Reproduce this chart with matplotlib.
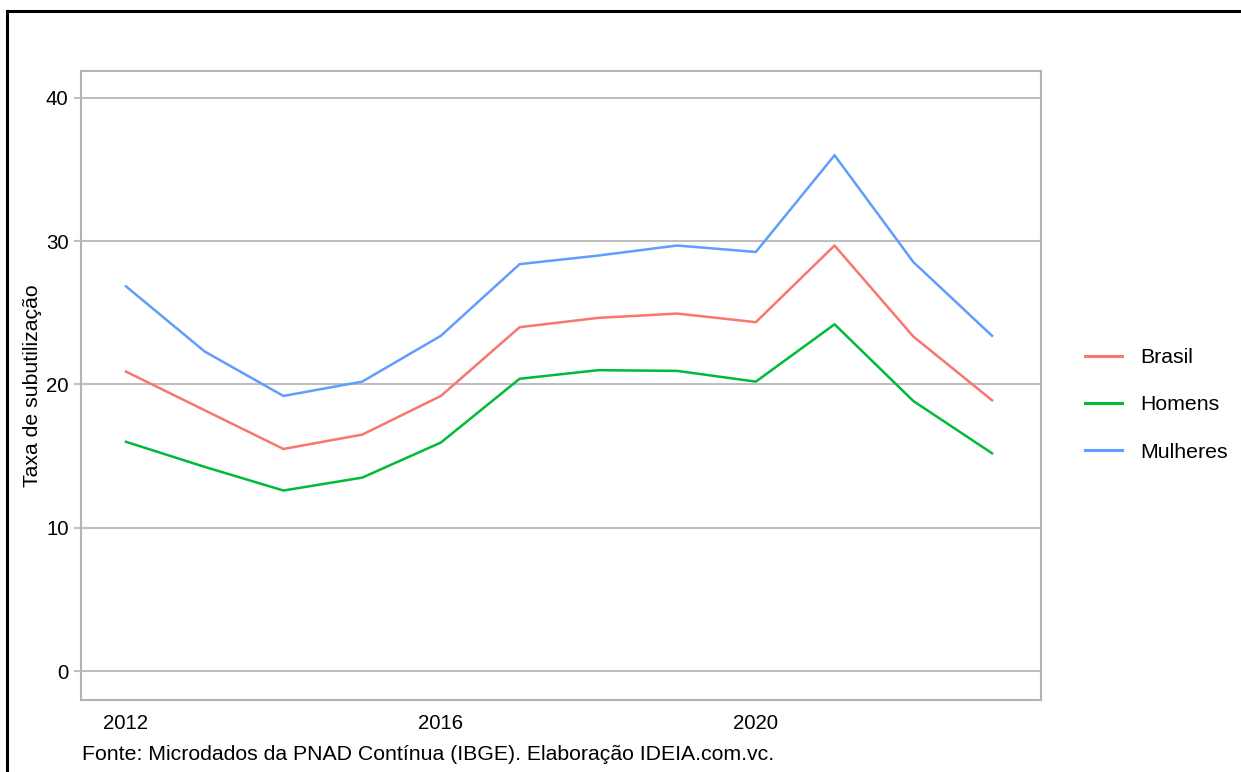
import matplotlib
matplotlib.use("Agg")
import matplotlib.pyplot as plt
from matplotlib.lines import Line2D

plt.rcParams['font.family'] = ['Liberation Sans', 'DejaVu Sans']

years = [2012, 2013, 2014, 2015, 2016, 2017, 2018, 2019, 2020, 2021, 2022, 2023]
brasil = [20.9, 18.2, 15.5, 16.5, 19.2, 24.0, 24.65, 24.95, 24.35, 29.7, 23.35, 18.9]
homens = [16.0, 14.25, 12.6, 13.5, 15.95, 20.4, 21.0, 20.95, 20.2, 24.2, 18.85, 15.2]
mulheres = [26.85, 22.3, 19.2, 20.2, 23.4, 28.4, 29.0, 29.7, 29.25, 36.0, 28.55, 23.4]
series_names = ["Brasil", "Homens", "Mulheres"]
colors = ["#F8766D", "#00BA38", "#619CFF"]
yticks = [0, 10, 20, 30, 40]
xticks = [2012, 2016, 2020]

W, H = 1241, 772
fig = plt.figure(figsize=(W / 100, H / 100), dpi=100)
fig.patch.set_facecolor("white")

l, r, t, b = 81, 1041, 71, 700
ax = fig.add_axes([l / W, (H - b) / H, (r - l) / W, (b - t) / H])

for vals, name, c in zip([brasil, homens, mulheres], series_names, colors):
    ax.plot(years, vals, color=c, lw=1.8, label=name)

ax.set_xlim(2012 - 45 / 78.75, 2023 + 49 / 78.75)
ax.set_ylim(-2.02, 41.88)
ax.set_yticks(yticks)
ax.set_xticks(xticks)
ax.set_yticklabels([str(v) for v in yticks], fontsize=14.7, color="black")
ax.set_xticklabels([str(v) for v in xticks], fontsize=14.7, color="black")
ax.grid(axis="y", color="#BEBEBE", lw=1.5)
ax.set_axisbelow(True)
ax.tick_params(axis="y", length=5, width=1.5, color="#BEBEBE", pad=4)
ax.tick_params(axis="x", length=0, pad=10)
for s in ax.spines.values():
    s.set_color("#B3B3B3")
    s.set_linewidth(1.5)
ax.set_ylabel("Taxa de subutilização", fontsize=15.3)
ax.yaxis.set_label_coords(-39 / (r - l), 0.5)

handles = [Line2D([0], [0], color=c, lw=2.2) for c in colors]
leg = fig.legend(handles, series_names, loc="center left",
                 bbox_to_anchor=(1066 / W, 1 - 405 / H), frameon=False,
                 fontsize=15.3, handlelength=1.75, labelspacing=1.33, handletextpad=0.85)

fig.text(82 / W, 1 - 755 / H, "Fonte: Microdados da PNAD Contínua (IBGE). Elaboração IDEIA.com.vc.",
         fontsize=15.3, ha="left", va="center")

fig.add_artist(Line2D([7 / W, 1], [1 - 11 / H, 1 - 11 / H], color="black", lw=2.2,
                      transform=fig.transFigure))
fig.add_artist(Line2D([7 / W, 7 / W], [1 - 11 / H, 0], color="black", lw=2.2,
                      transform=fig.transFigure))

fig.savefig("out.png", dpi=100)
